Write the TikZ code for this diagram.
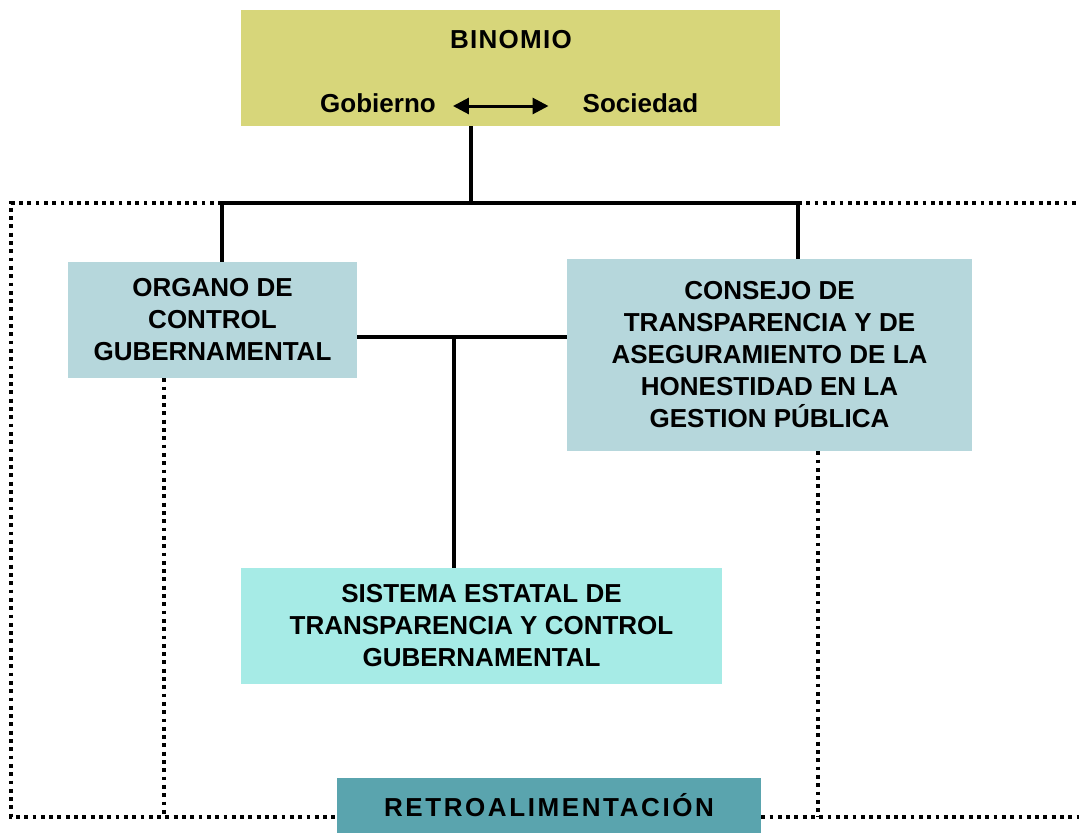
\documentclass[tikz,border=0pt]{standalone}
\usepackage{fontspec}
\setmainfont{Liberation Sans}
\newfontfamily\widefont[LetterSpace=10]{Liberation Sans}
\newfontfamily\titlefont[LetterSpace=5]{Liberation Sans}
\usetikzlibrary{arrows.meta,positioning}

\definecolor{binomiocol}{HTML}{D7D67A}
\definecolor{organocol}{HTML}{B6D7DC}
\definecolor{sistemacol}{HTML}{A6EBE6}
\definecolor{retrocol}{HTML}{5AA4AE}

\begin{document}
\begin{tikzpicture}[x=1pt, y=-1pt,
  box/.style={inner sep=0pt, align=center, font=\fontsize{26}{32}\selectfont\bfseries},
  line/.style={line width=3.4pt},
  dots/.style={line width=3.6pt, dash pattern=on 3.8pt off 4.5pt},
  arr/.style={line width=3pt, >={Triangle[length=16pt,width=16pt]}, <->},
]
\useasboundingbox (0,0) rectangle (1079,833);

\node [box, fill=binomiocol, minimum width=539pt, minimum height=116pt] (binomio) at (510.5,68) {};
\node [box] (bintitle) at (511,40) {\titlefont BINOMIO};
\node [box] (gobierno) at (378,103) {Gobierno};
\node [box] (sociedad) at (640.5,103) {Sociedad};

\node [box, fill=organocol, minimum width=289pt, minimum height=116pt] (organo) at (212.5,320) {ORGANO DE\\CONTROL\\GUBERNAMENTAL};
\node [box, fill=organocol, minimum width=405pt, minimum height=192pt] (consejo) at (769.5,355) {CONSEJO DE\\TRANSPARENCIA Y DE\\ASEGURAMIENTO DE LA\\HONESTIDAD EN LA\\GESTION PÚBLICA};
\node [box, fill=sistemacol, minimum width=481pt, minimum height=116pt] (sistema) at (481.5,626) {SISTEMA ESTATAL DE\\TRANSPARENCIA Y CONTROL\\GUBERNAMENTAL};
\node [box, fill=retrocol, minimum width=424pt, minimum height=55pt] (retro) at (549,805.5) {\widefont RETROALIMENTACIÓN};

\coordinate (top) at (471,203);
\coordinate (topl) at (222,203);
\coordinate (topr) at (798,203);
\coordinate (mid) at (454,337);
\coordinate (outl) at (11,203);
\coordinate (outbl) at (11,817);
\coordinate (outbr) at (1079,817);
\coordinate (outtr) at (1079,203);
\coordinate (fbl) at (164,817);
\coordinate (fbr) at (818,817);

\draw [dots] (topl) -- (outl) -- (outbl) -- (outbl -| retro.west);
\draw [dots] (retro.east |- outbr) -- (outbr);
\draw [dots] (topr) -- (outtr);
\draw [dots] (fbl |- organo.south) -- (fbl);
\draw [dots] (fbr |- consejo.south) -- (fbr);

\draw [line] (top |- binomio.south) -- (top);
\draw [line] (topl |- organo.north) -- (topl) -- (topr) -- (topr |- consejo.north);
\draw [line] (mid -| organo.east) -- (mid -| consejo.west);
\draw [line] (mid) -- (mid |- sistema.north);

\draw [arr] ([shift={(17,3)}]gobierno.east) -- ([shift={(-34,3)}]sociedad.west);

\end{tikzpicture}
\end{document}
